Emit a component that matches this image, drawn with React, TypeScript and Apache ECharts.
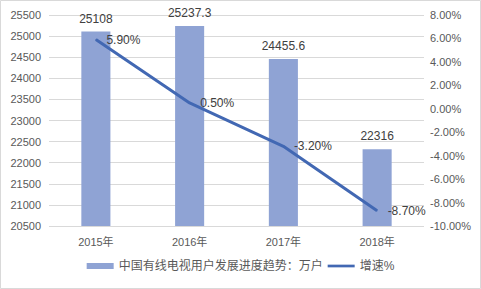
import React, { useEffect, useRef } from "react";
import * as echarts from "echarts";

const categories = ["2015年", "2016年", "2017年", "2018年"];
const users = [25108, 25237.3, 24455.6, 22316];
const growth = [5.9, 0.5, -3.2, -8.7];
const barName = "中国有线电视用户发展进度趋势：万户";
const lineName = "增速%";

const textColor = "#595959";
const font = "'Liberation Sans', 'Noto Sans CJK SC', sans-serif";

export default function App() {
  const ref = useRef<HTMLDivElement>(null);
  useEffect(() => {
    if (!ref.current) return;
    const chart = echarts.init(ref.current, undefined, { renderer: "svg" });
    chart.setOption({
      animation: false,
      backgroundColor: "#ffffff",
      textStyle: { fontFamily: font, color: textColor },
      graphic: [
        {
          type: "rect",
          shape: { x: 0.5, y: 0.5, width: 480, height: 288 },
          style: { fill: "none", stroke: "#d9d9d9", lineWidth: 1 },
          silent: true,
        },
      ],
      grid: { left: 49, right: 57, top: 15, bottom: 63 },
      legend: {
        bottom: 12,
        left: "center",
        itemWidth: 27,
        itemHeight: 6,
        itemGap: 5,
        textStyle: { fontSize: 12, color: textColor, fontFamily: font },
        data: [
          { name: barName, icon: "rect" },
          { name: lineName, icon: "path://M0,0L30,0L30,3L0,3Z" },
        ],
      },
      xAxis: {
        type: "category",
        data: categories,
        axisLine: { show: false },
        axisTick: { show: false },
        axisLabel: { color: textColor, fontSize: 11, margin: 10 },
      },
      yAxis: [
        {
          type: "value",
          min: 20500,
          max: 25500,
          interval: 500,
          axisLine: { show: false },
          axisTick: { show: false },
          axisLabel: {
            color: textColor,
            fontSize: 11,
            margin: 8,
            formatter: (v: number) => String(v),
          },
          splitLine: { lineStyle: { color: "#d9d9d9", width: 1 } },
        },
        {
          type: "value",
          min: -10,
          max: 8,
          interval: 2,
          axisLine: { show: false },
          axisTick: { show: false },
          splitLine: { show: false },
          axisLabel: {
            color: textColor,
            fontSize: 11,
            margin: 6,
            formatter: (v: number) => v.toFixed(2) + "%",
          },
        },
      ],
      series: [
        {
          name: barName,
          type: "bar",
          data: users,
          barWidth: "31%",
          itemStyle: { color: "#8FA3D4" },
          label: {
            show: true,
            position: "top",
            distance: 7,
            color: "#404040",
            fontSize: 12,
            fontFamily: font,
          },
        },
        {
          name: lineName,
          type: "line",
          yAxisIndex: 1,
          data: growth,
          symbol: "circle",
          symbolSize: 1,
          showSymbol: true,
          lineStyle: { color: "#4268B3", width: 3 },
          itemStyle: { color: "#4268B3" },
          label: {
            show: true,
            position: "right",
            distance: 10,
            color: "#404040",
            fontSize: 12,
            fontFamily: font,
            formatter: (p: any) => p.value.toFixed(2) + "%",
          },
        },
      ],
    });
    return () => chart.dispose();
  }, []);
  return (
    <div
      ref={ref}
      style={{ position: "fixed", left: 0, top: 0, width: 481, height: 289 }}
    />
  );
}
